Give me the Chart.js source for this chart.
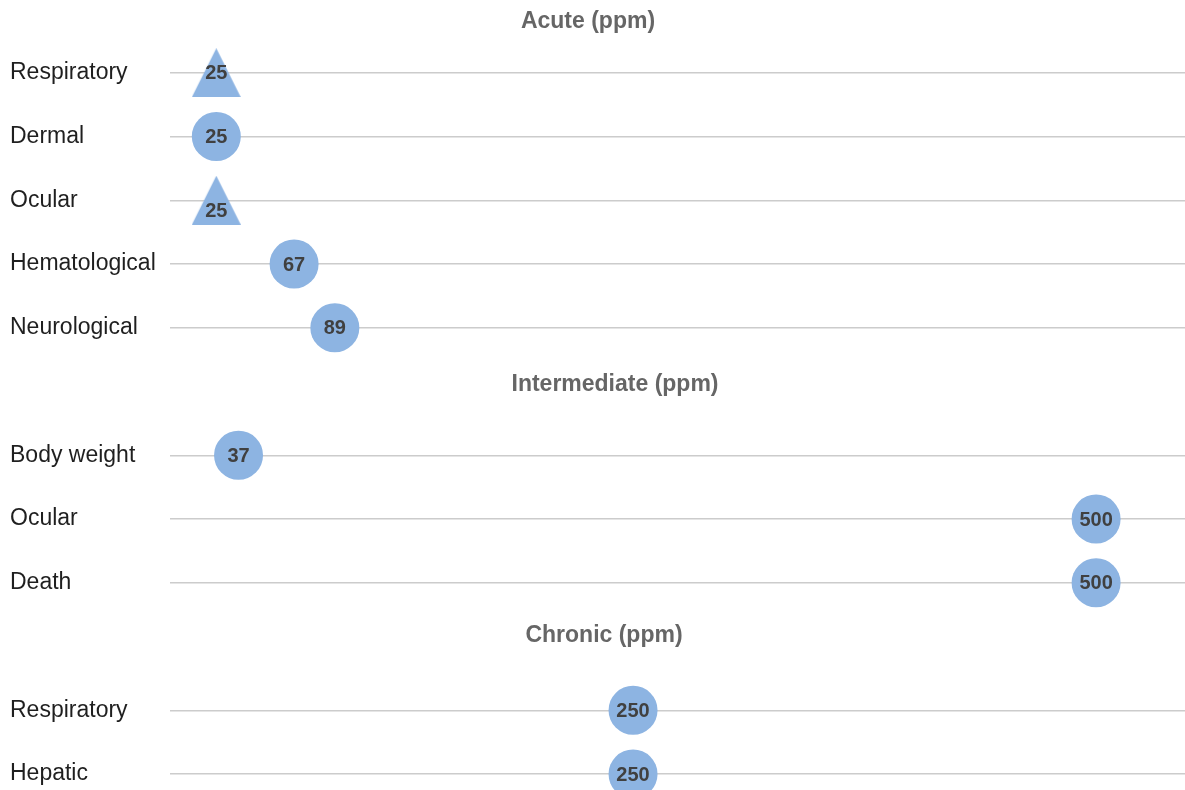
<!DOCTYPE html>
<html>
<head>
<meta charset="utf-8">
<script src="https://cdn.jsdelivr.net/npm/chart.js@4.4.0/dist/chart.umd.min.js"></script>
<style>
  html, body { margin: 0; padding: 0; background: #fff; }
  #wrap { width: 1185px; height: 790px; position: relative; }
</style>
</head>
<body>
<div id="wrap"><canvas id="chart"></canvas></div>
<script>
// section headers
const sections = ['Acute (ppm)', 'Intermediate (ppm)', 'Chronic (ppm)'];

// rows per section
const acuteLabels = ['Respiratory', 'Dermal', 'Ocular', 'Hematological', 'Neurological'];
const acuteValues = [25, 25, 25, 67, 89];
const acuteMarkers = ['triangle', 'circle', 'triangle', 'circle', 'circle'];

const intermediateLabels = ['Body weight', 'Ocular', 'Death'];
const intermediateValues = [37, 500, 500];
const intermediateMarkers = ['circle', 'circle', 'circle'];

const chronicLabels = ['Respiratory', 'Hepatic'];
const chronicValues = [250, 250];
const chronicMarkers = ['circle', 'circle'];

// build slot list: a header slot followed by its rows
const slotLabels = [];
const titleSlots = [];
const points = [];
const markers = [];
[[acuteLabels, acuteValues, acuteMarkers],
 [intermediateLabels, intermediateValues, intermediateMarkers],
 [chronicLabels, chronicValues, chronicMarkers]].forEach(function (sec) {
  titleSlots.push(slotLabels.length);
  slotLabels.push('');
  sec[0].forEach(function (lab, i) {
    points.push({ x: sec[1][i], y: slotLabels.length });
    markers.push(sec[2][i]);
    slotLabels.push(lab);
  });
});

const BLUE = '#8db4e2';
const SIZE = 49;

// excel-like triangle marker (fills its square box)
function makeTriangle() {
  const c = document.createElement('canvas');
  c.width = SIZE; c.height = SIZE;
  const g = c.getContext('2d');
  g.fillStyle = BLUE;
  g.beginPath();
  g.moveTo(SIZE / 2, 0);
  g.lineTo(SIZE, SIZE);
  g.lineTo(0, SIZE);
  g.closePath();
  g.fill();
  return c;
}
const tri = makeTriangle();

// value labels on the markers
const valueLabels = {
  id: 'valueLabels',
  afterDatasetsDraw(chart) {
    const ctx = chart.ctx;
    const meta = chart.getDatasetMeta(0);
    ctx.save();
    ctx.font = 'bold 20px "Liberation Sans", Arial, sans-serif';
    ctx.fillStyle = '#404040';
    ctx.textAlign = 'center';
    ctx.textBaseline = 'middle';
    meta.data.forEach(function (el, i) {
      // second acute triangle has its label set below centre
      const dy = (markers[i] === 'triangle' && i === 2) ? 11 : 1;
      ctx.fillText(String(points[i].x), el.x, el.y + dy);
    });
    ctx.restore();
  }
};

// section headers
const sectionTitles = {
  id: 'sectionTitles',
  afterDraw(chart) {
    const ctx = chart.ctx;
    const y = chart.scales.y;
    const cx = [588, 615, 604];
    const dy = [13, -7, -11];
    ctx.save();
    ctx.font = 'bold 23px "Liberation Sans", Arial, sans-serif';
    ctx.fillStyle = '#666666';
    ctx.textAlign = 'center';
    ctx.textBaseline = 'middle';
    sections.forEach(function (t, i) {
      ctx.fillText(t, cx[i], y.getPixelForValue(titleSlots[i]) + dy[i]);
    });
    ctx.restore();
  }
};

new Chart(document.getElementById('chart'), {
  type: 'scatter',
  data: {
    datasets: [{
      data: points,
      backgroundColor: BLUE,
      borderWidth: 0,
      pointRadius: SIZE / 2,
      pointHoverRadius: SIZE / 2,
      pointStyle: markers.map(function (m) { return m === 'triangle' ? tri : 'circle'; }),
      clip: false
    }]
  },
  options: {
    responsive: true,
    maintainAspectRatio: false,
    animation: false,
    events: [],
    layout: { autoPadding: false, padding: { top: 9, bottom: 16, left: 10, right: 0 } },
    plugins: { legend: { display: false }, tooltip: { enabled: false } },
    scales: {
      x: { type: 'linear', display: false, min: 0, max: 548 },
      y: {
        type: 'linear',
        reverse: true,
        min: 0,
        max: slotLabels.length - 1,
        border: { display: false },
        afterFit: function (s) {
          s.width = 160;
          s.paddingTop = 0;
          s.paddingBottom = 0;
        },
        grid: {
          drawTicks: false,
          lineWidth: 1.5,
          color: function (c) {
            return titleSlots.indexOf(c.tick && c.tick.value) >= 0 ? 'rgba(0,0,0,0)' : '#cccccc';
          }
        },
        ticks: {
          stepSize: 1,
          autoSkip: false,
          crossAlign: 'far',
          color: '#1f1f1f',
          font: { family: '"Liberation Sans", Arial, sans-serif', size: 23 },
          callback: function (v) { return slotLabels[v]; }
        }
      }
    }
  },
  plugins: [valueLabels, sectionTitles]
});
</script>
</body>
</html>
